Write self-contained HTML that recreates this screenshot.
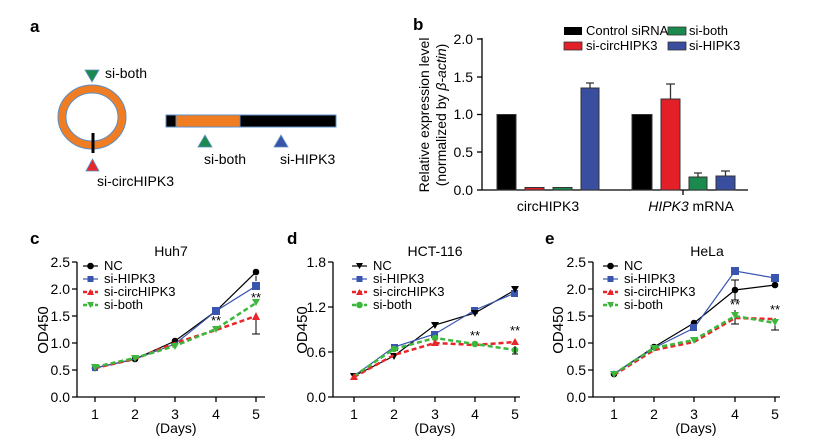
<!DOCTYPE html>
<html><head><meta charset="utf-8"><style>
body{margin:0;background:#fff}
svg{display:block;font-family:"Liberation Sans",Arial,sans-serif}
</style></head><body>
<svg width="818" height="448" viewBox="0 0 818 448" xmlns="http://www.w3.org/2000/svg">
<!-- panel a -->
<text x="30" y="32" font-size="17" font-weight="bold">a</text>
<ellipse cx="92" cy="117" rx="30" ry="28" fill="none" stroke="#5b8fc9" stroke-width="9"/>
<ellipse cx="92" cy="117" rx="30" ry="28" fill="none" stroke="#f07d22" stroke-width="7"/>
<line x1="93" y1="133" x2="93" y2="153" stroke="#000" stroke-width="3"/>
<polygon points="85,70 99,70 92,82" fill="#1a8a4e" stroke="#5b8fc9" stroke-width="0.8"/>
<text x="105" y="78" font-size="14">si-both</text>
<polygon points="86,171 99,171 92.5,159" fill="#e32a2a" stroke="#5b8fc9" stroke-width="0.8"/>
<text x="97" y="186" font-size="14">si-circHIPK3</text>
<rect x="166" y="115" width="170" height="12" fill="#000" stroke="#5b8fc9" stroke-width="1"/>
<rect x="176" y="115" width="64" height="12" fill="#f07d22" stroke="#5b8fc9" stroke-width="1"/>
<polygon points="198,147 212,147 205,135" fill="#1a8a4e" stroke="#5b8fc9" stroke-width="0.8"/>
<text x="204" y="164" font-size="14">si-both</text>
<polygon points="274,147 288,147 281,135" fill="#3a55a8" stroke="#5b8fc9" stroke-width="0.8"/>
<text x="280" y="164" font-size="14">si-HIPK3</text>

<!-- panel b -->
<text x="413" y="30" font-size="17" font-weight="bold">b</text>
<g font-size="14">
<text transform="translate(429,115) rotate(-90)" text-anchor="middle">Relative expression level</text>
<text transform="translate(446,115) rotate(-90)" text-anchor="middle">(normalized by <tspan font-style="italic">β-actin</tspan>)</text>
</g>
<line x1="482" y1="38" x2="482" y2="190" stroke="#000" stroke-width="1.3"/>
<line x1="482" y1="190" x2="748" y2="190" stroke="#000" stroke-width="1.3"/>
<g stroke="#000" stroke-width="1.3">
<line x1="477" y1="39" x2="482" y2="39"/><line x1="477" y1="77" x2="482" y2="77"/><line x1="477" y1="114.5" x2="482" y2="114.5"/><line x1="477" y1="152" x2="482" y2="152"/><line x1="477" y1="190" x2="482" y2="190"/>
<line x1="683" y1="190" x2="683" y2="195"/>
</g>
<g font-size="14" text-anchor="end">
<text x="473" y="44">2.0</text><text x="473" y="82">1.5</text><text x="473" y="119">1.0</text><text x="473" y="157">0.5</text><text x="473" y="195">0.0</text>
</g>
<g stroke="#333" stroke-width="1">
<rect x="497" y="114.5" width="19" height="75.5" fill="#000"/>
<rect x="525" y="187.5" width="19" height="2.5" fill="#e32028"/>
<rect x="553" y="187.5" width="19" height="2.5" fill="#1a8a4e"/>
<rect x="581" y="88" width="18" height="102" fill="#3a4ea0"/>
<rect x="632" y="114.5" width="20" height="75.5" fill="#000"/>
<rect x="661" y="99" width="19" height="91" fill="#e32028"/>
<rect x="689" y="177" width="18" height="13" fill="#1a8a4e"/>
<rect x="716" y="176" width="19" height="14" fill="#3a4ea0"/>
</g>
<g stroke="#333" stroke-width="1.3" fill="none">
<path d="M590 88V83M586 83H594"/>
<path d="M670.5 99V84M666 84H675"/>
<path d="M698 177V173M694 173H702"/>
<path d="M725.5 176V171M721 171H730"/>
</g>
<text x="548" y="211" font-size="14" text-anchor="middle">circHIPK3</text>
<text x="691" y="211" font-size="14" text-anchor="middle"><tspan font-style="italic">HIPK3</tspan> mRNA</text>
<g font-size="13">
<rect x="564" y="27" width="18" height="8" fill="#000"/><text x="586" y="35">Control siRNA</text>
<rect x="668" y="27" width="18" height="8" fill="#1a8a4e" stroke="#333" stroke-width="0.8"/><text x="689" y="35">si-both</text>
<rect x="564" y="42" width="18" height="8" fill="#e32028" stroke="#333" stroke-width="0.8"/><text x="586" y="50">si-circHIPK3</text>
<rect x="668" y="42" width="18" height="8" fill="#3a4ea0" stroke="#333" stroke-width="0.8"/><text x="689" y="50">si-HIPK3</text>
</g>

<!-- panel c -->
<text x="30" y="244" font-size="17" font-weight="bold">c</text>
<text x="171" y="256" font-size="14" text-anchor="middle">Huh7</text>
<text transform="translate(48,330) rotate(-90)" font-size="15" text-anchor="middle">OD450</text>
<path d="M77 262V397H265" stroke="#000" stroke-width="1.3" fill="none"/>
<g stroke="#000" stroke-width="1.3">
<path d="M72 262H77M72 289H77M72 316H77M72 343H77M72 370H77M72 397H77"/>
<path d="M95 397v5M135 397v5M175 397v5M216 397v5M256 397v5"/>
</g>
<g font-size="14" text-anchor="end"><text x="70" y="267">2.5</text><text x="70" y="294">2.0</text><text x="70" y="321">1.5</text><text x="70" y="348">1.0</text><text x="70" y="375">0.5</text><text x="70" y="402">0.0</text></g>
<g font-size="14" text-anchor="middle"><text x="95" y="419">1</text><text x="135" y="419">2</text><text x="175" y="419">3</text><text x="216" y="419">4</text><text x="256" y="419">5</text><text x="176" y="433">(Days)</text></g>
<polyline points="95,368 135,359 175,341 216,311 256,272" fill="none" stroke="#000" stroke-width="1.2"/>
<g fill="#000"><circle cx="95" cy="368" r="3.3"/><circle cx="135" cy="359" r="3.3"/><circle cx="175" cy="341" r="3.3"/><circle cx="216" cy="311" r="3.3"/><circle cx="256" cy="272" r="3.3"/></g>
<polyline points="95,368 135,359 175,344 216,311 256,286" fill="none" stroke="#3a55b0" stroke-width="1.2"/>
<path d="M256 281v-5" stroke="#000"/>
<g fill="#3a55b0"><rect x="92" y="365" width="6" height="6"/><rect x="212" y="307" width="8" height="8"/><rect x="252" y="282" width="8" height="8"/></g>
<polyline points="95,368 135,359 175,343 216,330 256,316" fill="none" stroke="#e8262a" stroke-width="2.5" stroke-dasharray="5,3"/>
<path d="M256 316v18M252 334h8" stroke="#000"/>
<polygon points="252,320 260,320 256,312" fill="#e8262a"/>
<polyline points="95,367 135,358 175,346 216,329 256,303" fill="none" stroke="#3cb83c" stroke-width="2.5" stroke-dasharray="5,3"/>
<g fill="#3cb83c"><polygon points="91,364 99,364 95,371"/><polygon points="131,355 139,355 135,362"/><polygon points="171,343 179,343 175,350"/><polygon points="212,326 220,326 216,333"/><polygon points="252,299 260,299 256,306"/></g>
<g font-size="13" text-anchor="middle"><text x="216" y="325">**</text><text x="256" y="302">**</text></g>
<g font-size="13">
<path d="M83 266H98" stroke="#000" stroke-width="1.2"/><circle cx="90.5" cy="266" r="3.3"/><text x="104" y="270">NC</text>
<path d="M83 279H98" stroke="#3a55b0" stroke-width="1.2"/><rect x="87.5" y="276" width="6" height="6" fill="#3a55b0"/><text x="104" y="283">si-HIPK3</text>
<path d="M83 292H98" stroke="#e8262a" stroke-width="2.5" stroke-dasharray="4,2"/><polygon points="87,295 94,295 90.5,289" fill="#e8262a"/><text x="104" y="296">si-circHIPK3</text>
<path d="M83 305H98" stroke="#3cb83c" stroke-width="2.5" stroke-dasharray="4,2"/><polygon points="87,302 94,302 90.5,308" fill="#3cb83c"/><text x="104" y="309">si-both</text>
</g>

<!-- panel d -->
<text x="287" y="244" font-size="17" font-weight="bold">d</text>
<text x="435" y="256" font-size="14" text-anchor="middle">HCT-116</text>
<text transform="translate(307,330) rotate(-90)" font-size="15" text-anchor="middle">OD450</text>
<path d="M333 262V397H520" stroke="#000" stroke-width="1.3" fill="none"/>
<g stroke="#000" stroke-width="1.3">
<path d="M328 262H333M328 307H333M328 352H333M328 397H333"/>
<path d="M354 397v5M394 397v5M435 397v5M475 397v5M515 397v5"/>
</g>
<g font-size="14" text-anchor="end"><text x="326" y="267">1.8</text><text x="326" y="312">1.2</text><text x="326" y="357">0.6</text><text x="326" y="402">0.0</text></g>
<g font-size="14" text-anchor="middle"><text x="354" y="419">1</text><text x="394" y="419">2</text><text x="435" y="419">3</text><text x="475" y="419">4</text><text x="515" y="419">5</text><text x="435" y="433">(Days)</text></g>
<polyline points="354,376 394,356 435,325 475,313 515,290" fill="none" stroke="#000" stroke-width="1.2"/>
<polyline points="354,376 394,347 435,334 475,310 515,293" fill="none" stroke="#3a55b0" stroke-width="1.2"/>
<g fill="#3a55b0"><rect x="391" y="344" width="7" height="7"/><rect x="431" y="331" width="7" height="7"/><rect x="471" y="307" width="7" height="7"/><rect x="511" y="290" width="7" height="7"/></g>
<g fill="#000"><polygon points="350,373 358,373 354,380"/><polygon points="390,353 398,353 394,360"/><polygon points="431,322 439,322 435,329"/><polygon points="471,310 479,310 475,317"/><polygon points="511,286 519,286 515,293"/></g>
<polyline points="354,377 394,355 435,343 475,345 515,342" fill="none" stroke="#e8262a" stroke-width="2.5" stroke-dasharray="5,3"/>
<polyline points="354,376 394,349 435,338 475,344 515,350" fill="none" stroke="#3cb83c" stroke-width="2.5" stroke-dasharray="5,3"/>
<g fill="#3cb83c"><circle cx="394" cy="349" r="3.3"/><circle cx="435" cy="338" r="3.3"/><circle cx="475" cy="344" r="3.3"/><circle cx="515" cy="350" r="3.3"/></g>
<g fill="#e8262a"><polygon points="350,380 358,380 354,373"/><polygon points="431,346 439,346 435,339"/><polygon points="511,345 519,345 515,338"/></g>
<path d="M515 346v8M512 354h6" stroke="#000"/>
<g font-size="13" text-anchor="middle"><text x="475" y="340">**</text><text x="515" y="335">**</text></g>
<g font-size="13">
<path d="M352 266H367" stroke="#000" stroke-width="1.2"/><polygon points="356,263 363,263 359.5,269"/><text x="373" y="270">NC</text>
<path d="M352 279H367" stroke="#3a55b0" stroke-width="1.2"/><rect x="356.5" y="276" width="6" height="6" fill="#3a55b0"/><text x="373" y="283">si-HIPK3</text>
<path d="M352 292H367" stroke="#e8262a" stroke-width="2.5" stroke-dasharray="4,2"/><polygon points="356,295 363,295 359.5,289" fill="#e8262a"/><text x="373" y="296">si-circHIPK3</text>
<path d="M352 305H367" stroke="#3cb83c" stroke-width="2.5" stroke-dasharray="4,2"/><circle cx="359.5" cy="305" r="3.3" fill="#3cb83c"/><text x="373" y="309">si-both</text>
</g>

<!-- panel e -->
<text x="545" y="244" font-size="17" font-weight="bold">e</text>
<text x="707" y="256" font-size="14" text-anchor="middle">HeLa</text>
<text transform="translate(563,330) rotate(-90)" font-size="15" text-anchor="middle">OD450</text>
<path d="M593 262V397H780" stroke="#000" stroke-width="1.3" fill="none"/>
<g stroke="#000" stroke-width="1.3">
<path d="M588 262H593M588 289H593M588 316H593M588 343H593M588 370H593M588 397H593"/>
<path d="M614 397v5M654 397v5M694 397v5M735 397v5M775 397v5"/>
</g>
<g font-size="14" text-anchor="end"><text x="586" y="267">2.5</text><text x="586" y="294">2.0</text><text x="586" y="321">1.5</text><text x="586" y="348">1.0</text><text x="586" y="375">0.5</text><text x="586" y="402">0.0</text></g>
<g font-size="14" text-anchor="middle"><text x="614" y="419">1</text><text x="654" y="419">2</text><text x="694" y="419">3</text><text x="735" y="419">4</text><text x="775" y="419">5</text><text x="696" y="433">(Days)</text></g>
<polyline points="614,374 654,347 694,323 735,290 775,285" fill="none" stroke="#000" stroke-width="1.2"/>
<path d="M735 280v20M731 280h8M731 300h8" stroke="#000"/>
<g fill="#000"><circle cx="614" cy="374" r="3.3"/><circle cx="654" cy="347" r="3.3"/><circle cx="694" cy="323" r="3.3"/><circle cx="735" cy="290" r="3.3"/><circle cx="775" cy="285" r="3.3"/></g>
<polyline points="614,374 654,348 694,328 735,271 775,278" fill="none" stroke="#3a55b0" stroke-width="1.2"/>
<g fill="#3a55b0"><rect x="690" y="324" width="7" height="7"/><rect x="731" y="267" width="8" height="8"/><rect x="771" y="274" width="8" height="8"/></g>
<polyline points="614,375 654,350 694,342 735,318 775,319" fill="none" stroke="#e8262a" stroke-width="2.5" stroke-dasharray="5,3"/>
<polyline points="614,374 654,348 694,340 735,316 775,323" fill="none" stroke="#3cb83c" stroke-width="2.5" stroke-dasharray="5,3"/>
<path d="M775 318v12M771 330h8M735 310v14M731 324h8" stroke="#000"/>
<g fill="#3cb83c"><polygon points="610,371 618,371 614,378"/><polygon points="650,345 658,345 654,352"/><polygon points="690,337 698,337 694,344"/><polygon points="731,312 739,312 735,319"/><polygon points="771,319 779,319 775,326"/></g>
<g font-size="13" text-anchor="middle"><text x="735" y="309">**</text><text x="775" y="314">**</text></g>
<g font-size="13">
<path d="M603 266H618" stroke="#000" stroke-width="1.2"/><circle cx="610.5" cy="266" r="3.3"/><text x="624" y="270">NC</text>
<path d="M603 279H618" stroke="#3a55b0" stroke-width="1.2"/><rect x="607.5" y="276" width="6" height="6" fill="#3a55b0"/><text x="624" y="283">si-HIPK3</text>
<path d="M603 292H618" stroke="#e8262a" stroke-width="2.5" stroke-dasharray="4,2"/><polygon points="607,295 614,295 610.5,289" fill="#e8262a"/><text x="624" y="296">si-circHIPK3</text>
<path d="M603 305H618" stroke="#3cb83c" stroke-width="2.5" stroke-dasharray="4,2"/><polygon points="607,302 614,302 610.5,308" fill="#3cb83c"/><text x="624" y="309">si-both</text>
</g>
</svg>
</body></html>
